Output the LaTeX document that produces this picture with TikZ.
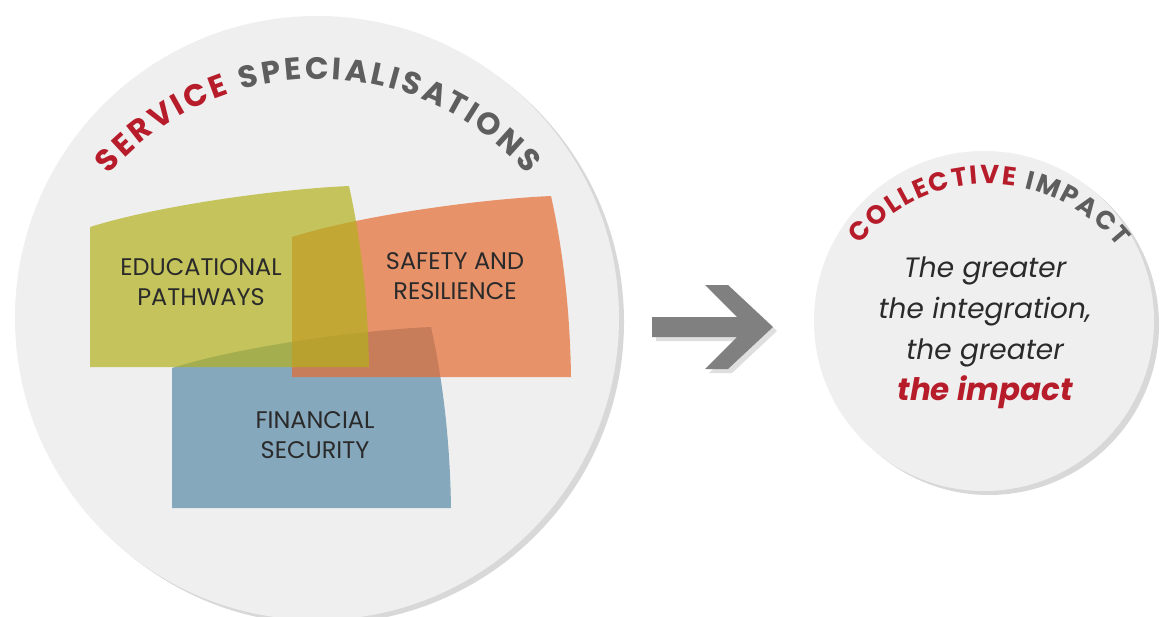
\documentclass[tikz,border=0pt]{standalone}
\usepackage{fontspec}
\setmainfont{Poppins}
\usetikzlibrary{calc,shadows,decorations.text}

\definecolor{discgray}{HTML}{EFEFEF}
\definecolor{headred}{HTML}{B71C2B}
\definecolor{headgray}{HTML}{5E5E5E}
\definecolor{arrowgray}{HTML}{808080}
\definecolor{edugreen}{HTML}{B3B11F}
\definecolor{safeorange}{HTML}{E56B31}
\definecolor{finblue}{HTML}{86A8BD}
\definecolor{labelink}{HTML}{2A2A2A}

\newcommand{\headfont}{\fontsize{15.5}{15.5}\selectfont\bfseries}
\newcommand{\smallheadfont}{\fontsize{13}{13}\selectfont\bfseries}

\tikzset{
  disc/.style={circle, fill=discgray, inner sep=0pt,
    drop shadow={shadow xshift=2.5pt, shadow yshift=-2pt, opacity=0.3}},
  panel/.pic={
    \fill[pic actions] (0,0) -- (0,-140) .. controls (70,-162) and (190,-178) .. (259,-181)
      .. controls (271,-127) and (278,-67) .. (279,0) -- cycle;
  },
  paneltext/.style={align=center, text=labelink, font=\fontsize{12}{15}\selectfont},
}

\begin{document}
\begin{tikzpicture}[x=0.5pt, y=-0.5pt]
  \useasboundingbox[fill=white] (0,0) rectangle (1160,616);

  % discs
  \node[disc, minimum size=302pt] (spec) at (317,318) {};
  \node[disc, minimum size=170pt] (impact) at (984,321) {};

  % overlapping panels, back to front
  \pic[fill=finblue] at (172,508) {panel};
  \pic[fill=safeorange, fill opacity=0.7] at (292,377) {panel};
  \pic[fill=edugreen, fill opacity=0.7] at (90,367) {panel};

  \node[paneltext] (edu) at (201,282) {EDUCATIONAL\\PATHWAYS};
  \node[paneltext] (safety) at (455,276) {SAFETY AND\\RESILIENCE};
  \node[paneltext] (fin) at (315,435) {FINANCIAL\\SECURITY};

  % curved titles
  \path[decorate, decoration={text along path, text align=fit to path,
      text={|\headfont\color{headred}|SERVICE |\headfont\color{headgray}|SPECIALISATIONS}}]
    ($(318,356)+(139:138.5pt)$) arc[start angle=139, end angle=41, radius=138.5pt];
  \path[decorate, decoration={text along path, text align=fit to path,
      text={|\smallheadfont\color{headred}|COLLECTIVE |\smallheadfont\color{headgray}|IMPACT}}]
    ($(988,349)+(141:82.5pt)$) arc[start angle=141, end angle=38, radius=82.5pt];

  % block arrow
  \fill[arrowgray, drop shadow={shadow xshift=2pt, shadow yshift=-2pt, opacity=0.25}]
    (652,317) -- (737,317) -- (705,285) -- (728,285) -- (773,327) -- (728,369)
    -- (705,369) -- (737,337) -- (652,337) -- cycle;

  \node[align=center, text=labelink, font=\fontsize{14}{20.5}\selectfont\itshape] (slogan)
    at (985,333) {The greater\\the integration,\\the greater\\{\fontsize{15.5}{20.5}\selectfont\bfseries\color{headred}the impact}};
\end{tikzpicture}
\end{document}
